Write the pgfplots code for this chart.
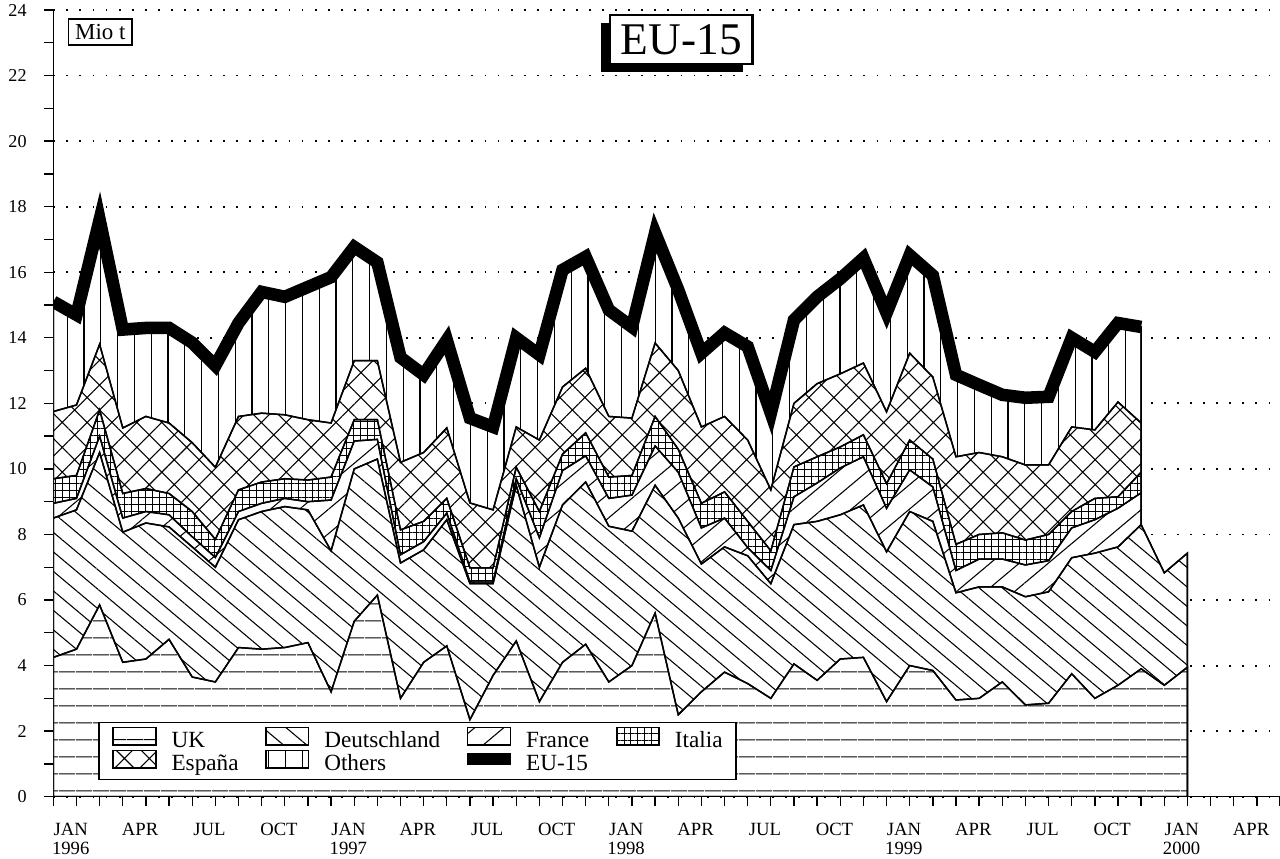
\documentclass[border=0pt]{standalone}
\usepackage{fontspec}
\setmainfont{Liberation Serif}
\usepackage{pgfplots}
\usepackage{pgfplotstable}
\pgfplotsset{compat=1.18}
\usetikzlibrary{patterns.meta,shadows}

\pgfplotstableread{
m uk de
0 4.25 8.50
1 4.50 8.75
2 5.85 10.50
3 4.10 8.07
4 4.20 8.35
5 4.80 8.23
6 3.65 7.62
7 3.50 7.00
8 4.55 8.45
9 4.50 8.70
10 4.55 8.85
11 4.70 8.75
12 3.20 7.50
13 5.35 10.00
14 6.15 10.30
15 3.00 7.13
16 4.10 7.53
17 4.60 8.45
18 2.35 6.50
19 3.70 6.50
20 4.75 9.50
21 2.90 7.00
22 4.10 8.90
23 4.65 9.60
24 3.50 8.25
25 4.00 8.10
26 5.60 9.50
27 2.50 8.50
28 3.20 7.10
29 3.80 7.62
30 3.45 7.35
31 3.00 6.50
32 4.05 8.30
33 3.55 8.40
34 4.20 8.60
35 4.25 8.90
36 2.90 7.47
37 4.00 8.70
38 3.85 8.40
39 2.95 6.22
40 3.00 6.40
41 3.50 6.40
42 2.80 6.10
43 2.85 6.25
44 3.75 7.29
45 3.00 7.43
46 3.40 7.62
47 3.90 8.30
48 3.40 6.83
49 3.95 7.43
}\tabA

\pgfplotstableread{
m fr it es tot
0 8.95 9.70 11.75 15.10
1 9.10 9.80 11.95 14.70
2 11.00 11.80 13.80 17.60
3 8.50 9.25 11.25 14.25
4 8.70 9.40 11.60 14.30
5 8.60 9.25 11.40 14.30
6 7.93 8.70 10.80 13.85
7 7.30 7.85 10.05 13.15
8 8.70 9.36 11.60 14.45
9 8.95 9.60 11.70 15.40
10 9.10 9.70 11.65 15.25
11 9.00 9.66 11.50 15.55
12 9.05 9.75 11.40 15.85
13 10.85 11.50 13.30 16.77
14 10.90 11.50 13.30 16.30
15 7.38 8.14 10.20 13.40
16 7.78 8.40 10.50 12.87
17 8.65 9.10 11.25 13.93
18 6.55 6.98 8.96 11.55
19 6.55 6.98 8.75 11.28
20 9.70 10.05 11.28 14.00
21 7.90 8.70 10.88 13.48
22 9.95 10.45 12.50 16.07
23 10.40 11.10 13.07 16.47
24 9.10 9.75 11.60 14.85
25 9.20 9.80 11.55 14.33
26 10.70 11.60 13.84 17.20
27 9.90 10.60 13.00 15.46
28 8.20 8.95 11.28 13.53
29 8.50 9.30 11.60 14.15
30 7.60 8.40 10.88 13.73
31 6.90 7.50 9.36 11.70
32 9.15 10.06 12.00 14.54
33 9.57 10.37 12.60 15.25
34 10.03 10.67 12.90 15.80
35 10.37 11.04 13.23 16.43
36 8.80 9.55 11.74 14.76
37 9.97 10.88 13.53 16.52
38 9.45 10.30 12.80 15.90
39 6.90 7.70 10.37 12.87
40 7.25 8.00 10.50 12.56
41 7.25 8.05 10.37 12.26
42 7.07 7.83 10.12 12.17
43 7.20 8.00 10.12 12.20
44 8.20 8.70 11.28 14.00
45 8.45 9.10 11.19 13.57
46 8.80 9.15 12.04 14.45
47 9.27 9.90 11.40 14.33
}\tabB

\pgfplotsset{
  ukpat/.style={pattern={Lines[angle=0,distance=6.4pt,line width=0.4pt]}},
  depat/.style={pattern={Lines[angle=-40,distance=5.6pt,line width=0.4pt]}},
  frpat/.style={pattern={Lines[angle=40,distance=7pt,line width=0.4pt]}},
  itpat/.style={pattern={Hatch[angle=0,distance=2.6pt,line width=0.35pt]}},
  espat/.style={pattern={Hatch[angle=45,distance=6.6pt,line width=0.4pt]}},
  otpat/.style={pattern={Lines[angle=90,distance=6.3pt,line width=0.4pt]}},
  layer/.style={forget plot, draw=black, line width=0.55pt, preaction={fill=white}},
  area legend/.style={legend image code/.code={\draw[##1,line width=0.55pt] (0pt,-1.1pt) rectangle (16pt,5.5pt);}},
}

\begin{document}
\begin{tikzpicture}
\begin{axis}[
  scale only axis, width=460pt, height=295pt,
  xmin=0, xmax=53, ymin=0, ymax=24,
  axis lines*=left,
  axis line style={line width=0.6pt},
  tick align=outside,
  major tick length=3.5pt, minor tick length=3.5pt,
  tick style={black, line width=0.5pt},
  ytick={0,2,...,24}, minor ytick={1,3,...,23},
  xtick={0,3,...,51}, minor xtick={0,1,...,53},
  xticklabels={{JAN\\1996},APR,JUL,OCT,{JAN\\1997},APR,JUL,OCT,{JAN\\1998},APR,JUL,OCT,{JAN\\1999},APR,JUL,OCT,{JAN\\2000},APR},
  xticklabel style={align=center, xshift=6.5pt, yshift=-3pt, font=\fontsize{7}{7.2}\selectfont},
  yticklabel style={xshift=-3pt, font=\fontsize{6.8}{7}\selectfont},
  /pgf/number format/assume math mode=true,
  ymajorgrids,
  major grid style={black, line width=0.7pt, dash pattern=on 0.7pt off 4.2pt},
  legend columns=4,
  legend cell align=left,
  legend style={
    at={(0.0367,0.0953)}, anchor=north west,
    draw=black, line width=0.6pt, fill=white,
    font=\fontsize{8.7}{9}\selectfont,
    inner xsep=5pt, inner ysep=1.5pt,
    row sep=-1.1pt,
    nodes={inner xsep=0pt, inner ysep=0pt, text height=6pt, text depth=1.9pt},
    /tikz/every odd column/.append style={column sep=5.6pt},
    /tikz/every even column/.append style={column sep=10pt},
  },
]
\addlegendimage{area legend, ukpat}\addlegendentry{UK}
\addlegendimage{area legend, depat}\addlegendentry{Deutschland}
\addlegendimage{area legend, frpat}\addlegendentry{France}
\addlegendimage{area legend, itpat}\addlegendentry{Italia}
\addlegendimage{area legend, espat}\addlegendentry{España}
\addlegendimage{area legend, otpat}\addlegendentry{Others}
\addlegendimage{legend image code/.code={\fill[black] (0pt,0.3pt) rectangle (16pt,4.1pt);}}\addlegendentry{EU-15}

\addplot[layer, otpat] table[x=m,y=tot]{\tabB} \closedcycle;
\addplot[layer, espat] table[x=m,y=es]{\tabB} \closedcycle;
\addplot[layer, itpat] table[x=m,y=it]{\tabB} \closedcycle;
\addplot[layer, frpat] table[x=m,y=fr]{\tabB} \closedcycle;
\addplot[layer, depat] table[x=m,y=de]{\tabA} \closedcycle;
\addplot[layer, ukpat] table[x=m,y=uk]{\tabA} \closedcycle;
\addplot[forget plot, black, line width=4.7pt, line join=miter] table[x=m,y=tot]{\tabB};

\node[draw=black, line width=0.5pt, fill=white, inner xsep=2.5pt, inner ysep=2pt, font=\fontsize{8.6}{8.6}\selectfont] at (rel axis cs:0.0383,0.972) {Mio t};
\node[draw=black, line width=0.8pt, fill=white, inner xsep=4pt, inner ysep=3.5pt, font=\fontsize{17}{17}\selectfont, general shadow={fill=black, shadow xshift=-3.6pt, shadow yshift=-2.8pt}] at (rel axis cs:0.512,0.962) {EU-15};
\end{axis}
\pgfresetboundingbox
\path ([xshift=-20pt,yshift=-23pt]current axis.south west) rectangle ([yshift=3.75pt]current axis.north east);
\end{tikzpicture}
\end{document}
